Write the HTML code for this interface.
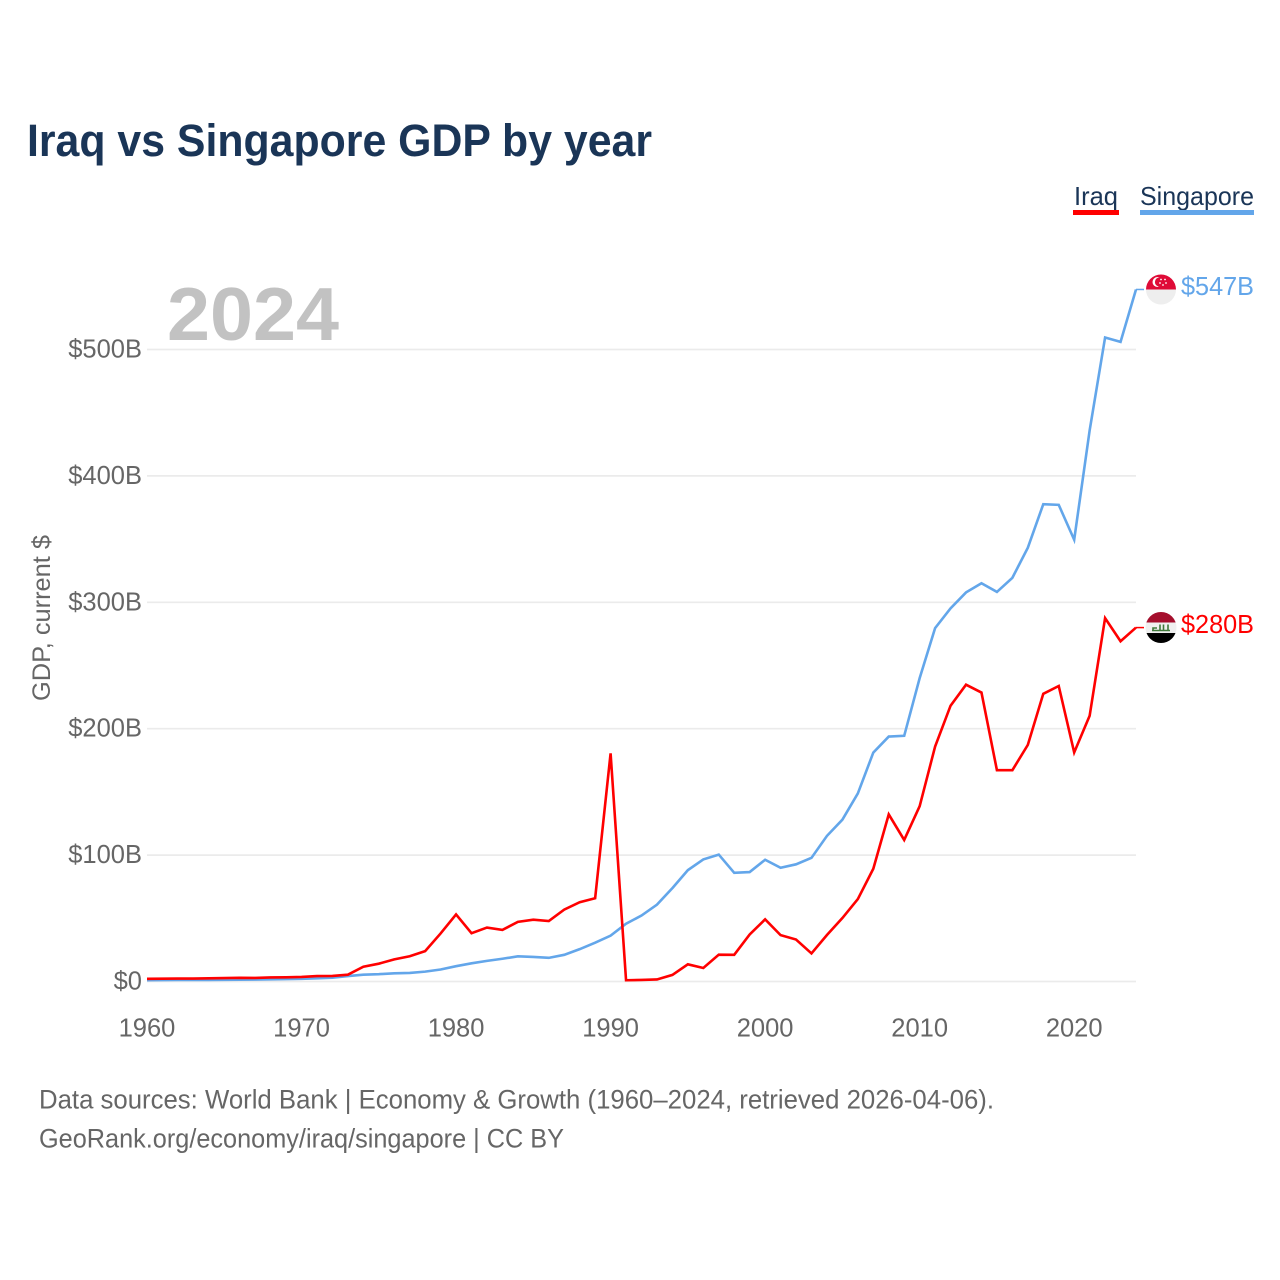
<!DOCTYPE html>
<html lang="en">
<head>
<meta charset="utf-8">
<title>Iraq vs Singapore GDP by year</title>
<style>
html,body{margin:0;padding:0;background:#fff;}
svg{display:block;font-family:"Liberation Sans",sans-serif;}
</style>
</head>
<body>
<svg id="chart" xmlns="http://www.w3.org/2000/svg" width="1280" height="1280" viewBox="0 0 1280 1280">
  <defs>
    <clipPath id="flag-clip-sg"><circle cx="1161" cy="289.5" r="15"/></clipPath>
    <clipPath id="flag-clip-iq"><circle cx="1161" cy="627.5" r="15.5"/></clipPath>
  </defs>
  <text x="27" y="156" font-size="45" font-weight="700" fill="#1a3557" textLength="625" lengthAdjust="spacingAndGlyphs">Iraq vs Singapore GDP by year</text>

  <g>
    <g>
      <text x="1074" y="205" font-size="26" fill="#1a3557" textLength="44" lengthAdjust="spacingAndGlyphs">Iraq</text>
      <rect x="1073" y="210" width="46" height="5" fill="#ff0000"/>
    </g>
    <g>
      <text x="1140" y="205" font-size="26" fill="#1a3557" textLength="114" lengthAdjust="spacingAndGlyphs">Singapore</text>
      <rect x="1140" y="210" width="114" height="5" fill="#63a6ea"/>
    </g>
  </g>

  <g id="grid"></g>
  <g id="y-ticks"></g>
  <g id="x-ticks"></g>

  <text x="167" y="340" font-size="75" font-weight="700" fill="#c2c2c2" textLength="172" lengthAdjust="spacingAndGlyphs">2024</text>
  <text transform="translate(50,701) rotate(-90)" font-size="25" fill="#666666" textLength="166" lengthAdjust="spacingAndGlyphs">GDP, current $</text>

  <g id="series"></g>

  <g clip-path="url(#flag-clip-sg)">
    <rect x="1146" y="274" width="30" height="15.5" fill="#df0b37"/>
    <rect x="1146" y="289.5" width="30" height="16" fill="#eeeeee"/>
    <circle cx="1157.5" cy="282" r="5" fill="#ffffff"/>
    <circle cx="1159.5" cy="282" r="4.6" fill="#df0b37"/>
    <circle cx="1161" cy="279.5" r="0.9" fill="#ffffff"/>
    <circle cx="1165" cy="279.5" r="0.9" fill="#ffffff"/>
    <circle cx="1166" cy="283" r="0.9" fill="#ffffff"/>
    <circle cx="1160" cy="283" r="0.9" fill="#ffffff"/>
    <circle cx="1163" cy="285" r="0.9" fill="#ffffff"/>
  </g>
  <g clip-path="url(#flag-clip-iq)">
    <rect x="1145" y="612" width="32" height="10.5" fill="#a50f2d"/>
    <rect x="1145" y="622.5" width="32" height="10.5" fill="#f0f0f0"/>
    <rect x="1145" y="633" width="32" height="11" fill="#000000"/>
    <path d="M1152 630.5h18M1153 630.5v-2.5h4M1160 630.5v-6M1163.5 630.5v-6M1168 630.5v-6" stroke="#3f7a3a" stroke-width="1.6" fill="none"/>
  </g>

  <text x="1181" y="295" font-size="25.5" fill="#63a6ea" textLength="73" lengthAdjust="spacingAndGlyphs">$547B</text>
  <text x="1181" y="633" font-size="25.5" fill="#ff0000" textLength="73" lengthAdjust="spacingAndGlyphs">$280B</text>

  <g>
    <text x="39" y="1108.5" font-size="26.5" fill="#666666" textLength="955" lengthAdjust="spacingAndGlyphs">Data sources: World Bank | Economy &amp; Growth (1960–2024, retrieved 2026-04-06).</text>
    <text x="39" y="1147.5" font-size="26.5" fill="#666666" textLength="525" lengthAdjust="spacingAndGlyphs">GeoRank.org/economy/iraq/singapore | CC BY</text>
  </g>
</svg>
<script>
const firstYear = 1960;
const lastYear = 2024;
const xTickYears = [1960, 1970, 1980, 1990, 2000, 2010, 2020];
const yTickValues = [0, 100, 200, 300, 400, 500];
const yTickLabels = ["$0", "$100B", "$200B", "$300B", "$400B", "$500B"];
const iraqGdp = [2.1, 2.2, 2.3, 2.3, 2.5, 2.7, 2.9, 2.8, 3.2, 3.3, 3.6, 4.3, 4.4, 5.4, 11.7, 14.1, 17.5, 20.0, 24.0, 38.0, 53.1, 38.2, 42.7, 40.8, 47.2, 48.9, 47.8, 56.9, 62.7, 65.9, 180.5, 1.0, 1.2, 1.6, 5.2, 13.6, 10.7, 21.2, 21.1, 37.2, 49.2, 36.7, 33.2, 22.2, 36.8, 50.2, 65.2, 89.2, 132.2, 112.0, 138.7, 185.9, 218.2, 234.8, 228.6, 167.2, 167.2, 187.2, 227.6, 233.8, 181.2, 210.2, 287.5, 269.2, 280.0];
const singaporeGdp = [1.0, 1.1, 1.2, 1.2, 1.2, 1.3, 1.4, 1.5, 1.7, 1.9, 2.1, 2.5, 3.0, 4.3, 5.4, 5.8, 6.5, 6.8, 7.8, 9.5, 12.1, 14.4, 16.3, 18.0, 19.9, 19.4, 18.7, 21.1, 25.6, 30.7, 36.3, 45.7, 52.2, 60.8, 73.9, 88.1, 96.6, 100.4, 86.0, 86.6, 96.3, 90.0, 92.7, 97.8, 115.2, 128.0, 148.8, 181.1, 193.8, 194.4, 240.0, 279.6, 295.2, 307.8, 315.1, 308.2, 319.4, 343.2, 377.6, 377.1, 349.5, 436.0, 509.5, 506.0, 547.5];

const SVG_NS = "http://www.w3.org/2000/svg";
const plotLeft = 147, plotRight = 1136, zeroY = 981.5, hundredPx = 126.4;
function xScale(year) {
  return plotLeft + (year - firstYear) / (lastYear - firstYear) * (plotRight - plotLeft);
}
function yScale(value) {
  return zeroY - value / 100 * hundredPx;
}
function node(tag, parent) {
  const el = document.createElementNS(SVG_NS, tag);
  parent.appendChild(el);
  return el;
}

const grid = document.getElementById("grid");
const yTicks = document.getElementById("y-ticks");
const xTicks = document.getElementById("x-ticks");
const seriesGroup = document.getElementById("series");

yTickValues.forEach(function (v, i) {
  const line = node("line", grid);
  
  
  line.setAttribute("x1", plotLeft);
  line.setAttribute("x2", plotRight);
  line.setAttribute("y1", yScale(v));
  line.setAttribute("y2", yScale(v));
  line.setAttribute("stroke", "#ebebeb");
  line.setAttribute("stroke-width", "1.7");

  const label = node("text", yTicks);
  
  
  label.setAttribute("x", 142);
  label.setAttribute("y", yScale(v) + 8);
  label.setAttribute("text-anchor", "end");
  label.setAttribute("font-size", "25.5");
  label.setAttribute("fill", "#666666");
  label.textContent = yTickLabels[i];
});

xTickYears.forEach(function (year) {
  const label = node("text", xTicks);
  
  
  label.setAttribute("x", xScale(year));
  label.setAttribute("y", 1036.5);
  label.setAttribute("text-anchor", "middle");
  label.setAttribute("font-size", "25.5");
  label.setAttribute("fill", "#666666");
  label.textContent = String(year);
});

function drawSeries(values, color, lineName, connectorName) {
  const points = values.map(function (v, i) {
    return xScale(firstYear + i).toFixed(2) + "," + yScale(v).toFixed(2);
  }).join(" ");
  const line = node("polyline", seriesGroup);
  
  
  line.setAttribute("points", points);
  line.setAttribute("fill", "none");
  line.setAttribute("stroke", color);
  line.setAttribute("stroke-width", "2.6");

  const lastValue = values[values.length - 1];
  const connector = node("line", seriesGroup);
  
  
  connector.setAttribute("x1", xScale(lastYear));
  connector.setAttribute("x2", xScale(lastYear) + 8);
  connector.setAttribute("y1", yScale(lastValue));
  connector.setAttribute("y2", yScale(lastValue));
  connector.setAttribute("stroke", color);
  connector.setAttribute("stroke-width", "1.5");
}

drawSeries(singaporeGdp, "#63a6ea", "line-singapore", "connector-singapore");
drawSeries(iraqGdp, "#ff0000", "line-iraq", "connector-iraq");
</script>
</body>
</html>
